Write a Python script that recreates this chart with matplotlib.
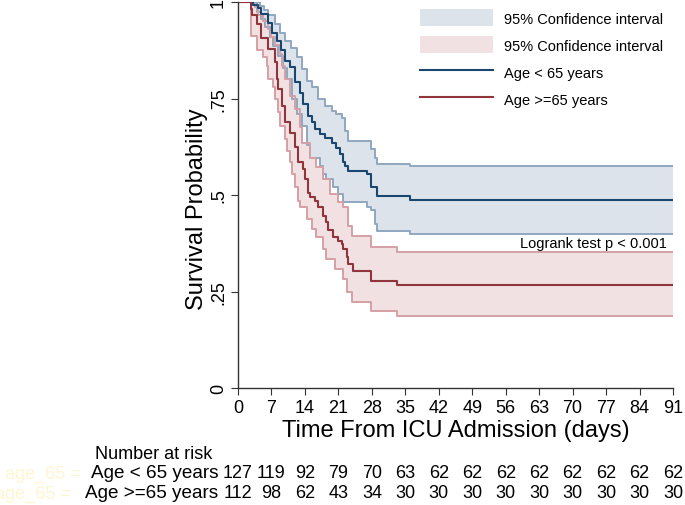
import numpy as np
import matplotlib.pyplot as plt
from matplotlib.patches import Patch
from matplotlib.lines import Line2D
import matplotlib.transforms as mtransforms

plt.rcParams['font.family'] = ['Liberation Sans', 'DejaVu Sans']

# Kaplan-Meier estimates (time of step, value after step)
young_t = [3.2, 4.2, 4.9, 6.3, 7.2, 8.1, 9.0, 9.8, 10.9, 11.9, 13.0, 13.6, 14.7, 15.4,
           16.1, 17.1, 18.2, 19.6, 20.6, 21.3, 22.0, 22.4, 23.0, 26.9, 27.9, 29.0, 35.9]
young_s = [0.993, 0.985, 0.97, 0.945, 0.92, 0.90, 0.875, 0.848, 0.832, 0.792, 0.765, 0.735,
           0.705, 0.69, 0.67, 0.658, 0.648, 0.636, 0.622, 0.605, 0.585, 0.576, 0.563, 0.555,
           0.52, 0.498, 0.488]
young_up_t = [4.6, 5.5, 6.3, 7.7, 8.8, 9.8, 11.0, 12.3, 13.3, 14.4, 15.4, 16.8, 18.2, 19.6,
              20.6, 21.7, 22.4, 23.0, 27.9, 28.6, 29.0, 35.9]
young_up_s = [0.99, 0.98, 0.966, 0.943, 0.92, 0.90, 0.88, 0.857, 0.826, 0.796, 0.779, 0.749,
              0.731, 0.718, 0.71, 0.70, 0.667, 0.641, 0.62, 0.595, 0.58, 0.574]
young_lo_t = [3.9, 4.9, 5.6, 6.7, 7.4, 8.4, 9.5, 10.2, 11.2, 12.3, 13.3, 14.4, 15.0, 17.1,
              17.8, 18.5, 19.9, 21.0, 22.0, 26.9, 27.9, 28.6, 29.0, 35.9]
young_lo_s = [0.975, 0.955, 0.935, 0.91, 0.885, 0.86, 0.83, 0.80, 0.75, 0.71, 0.68, 0.63,
              0.595, 0.576, 0.554, 0.541, 0.52, 0.503, 0.481, 0.468, 0.46, 0.425, 0.407, 0.399]

old_t = [2.7, 3.0, 3.9, 4.9, 6.3, 7.7, 8.1, 8.4, 9.1, 9.8, 10.9, 11.9, 12.6, 13.6, 14.0,
         14.7, 15.0, 16.1, 16.8, 17.8, 18.5, 18.9, 19.9, 21.0, 21.7, 22.0, 22.7, 23.0, 24.0,
         27.9, 33.2]
old_s = [0.982, 0.966, 0.943, 0.908, 0.878, 0.844, 0.80, 0.775, 0.731, 0.688, 0.66, 0.625,
         0.585, 0.567, 0.541, 0.505, 0.494, 0.485, 0.468, 0.445, 0.429, 0.41, 0.39, 0.382,
         0.373, 0.36, 0.34, 0.32, 0.304, 0.278, 0.267]
old_up_t = [2.7, 3.6, 4.2, 5.3, 6.3, 7.0, 7.7, 8.8, 9.1, 9.8, 10.9, 11.9, 13.0, 13.3, 15.0,
            16.4, 17.8, 19.2, 21.0, 22.0, 23.0, 23.8, 27.9, 33.2]
old_up_s = [0.995, 0.987, 0.966, 0.95, 0.93, 0.91, 0.888, 0.865, 0.835, 0.80, 0.757, 0.723,
            0.675, 0.636, 0.597, 0.572, 0.541, 0.503, 0.481, 0.468, 0.42, 0.395, 0.364, 0.353]
old_lo_t = [2.7, 3.9, 5.3, 6.0, 6.3, 7.4, 7.7, 8.4, 8.8, 9.8, 10.2, 10.9, 11.3, 11.9, 12.5,
            13.0, 14.4, 15.4, 16.4, 17.8, 18.5, 20.3, 22.0, 22.7, 23.8, 27.9, 33.2]
old_lo_s = [0.913, 0.875, 0.857, 0.835, 0.80, 0.779, 0.749, 0.714, 0.68, 0.645, 0.615, 0.585,
            0.555, 0.52, 0.485, 0.47, 0.438, 0.412, 0.39, 0.36, 0.334, 0.308, 0.282, 0.248,
            0.222, 0.20, 0.187]

t_end = 91
x_ticks = list(range(0, 92, 7))
risk_young = [127, 119, 92, 79, 70, 63, 62, 62, 62, 62, 62, 62, 62, 62]
risk_old = [112, 98, 62, 43, 34, 30, 30, 30, 30, 30, 30, 30, 30, 30]

blue = '#1a476f'
red = '#90353b'
blue_ci = '#8fa7c0'
red_ci = '#d59fa5'
blue_fill = '#dde3ea'
red_fill = '#f1e1e3'


def km_xy(t, s):
    x = np.concatenate([[0], t, [t_end]])
    y = np.concatenate([[1.0], s, [s[-1]]])
    return x, y


def on_grid(grid, t, s):
    x, y = km_xy(t, s)
    idx = np.searchsorted(x, grid, side='right') - 1
    return y[idx]


fig = plt.figure(figsize=(6.85, 5.06), dpi=100)
ax = fig.add_axes([238 / 685, 1 - 389 / 506, (673 - 238) / 685, 386 / 506])

for (ut, us, lt, ls, fc, lc) in [(young_up_t, young_up_s, young_lo_t, young_lo_s, blue_fill, blue_ci),
                                 (old_up_t, old_up_s, old_lo_t, old_lo_s, red_fill, red_ci)]:
    grid = np.unique(np.concatenate([[0, t_end], ut, lt]))
    ax.fill_between(grid, on_grid(grid, lt, ls), on_grid(grid, ut, us),
                    step='post', color=fc, lw=0)
    for tt, ss in [(ut, us), (lt, ls)]:
        x, y = km_xy(tt, ss)
        ax.step(x, y, where='post', color=lc, lw=1.4)

x, y = km_xy(young_t, young_s)
ax.step(x, y, where='post', color=blue, lw=1.5)
x, y = km_xy(old_t, old_s)
ax.step(x, y, where='post', color=red, lw=1.5)

ax.set_xlim(0, t_end)
ax.set_ylim(0, 1)
ax.spines['top'].set_visible(False)
ax.spines['right'].set_visible(False)
for sp in ['left', 'bottom']:
    ax.spines[sp].set_color('#333333')
    ax.spines[sp].set_linewidth(1.0)
ax.set_xticks(x_ticks)
ax.set_yticks([0, 0.25, 0.5, 0.75, 1])
ax.set_yticklabels(['0', '.25', '.5', '.75', '1'], rotation=90, va='center')
ax.tick_params(axis='both', labelsize=13, length=5, color='#333333', pad=3)
ax.set_xlabel('Time From ICU Admission (days)', fontsize=17, labelpad=2)
ax.set_ylabel('Survival Probability', fontsize=17)
ax.yaxis.set_label_coords(-0.068, 0.465)

ax.text(89.8, 0.376, 'Logrank test p < 0.001', ha='right', va='center', fontsize=10.5)

handles = [Patch(facecolor=blue_fill, edgecolor='none'),
           Patch(facecolor=red_fill, edgecolor='none'),
           Line2D([], [], color=blue, lw=1.5),
           Line2D([], [], color=red, lw=1.5)]
labels = ['95% Confidence interval', '95% Confidence interval', 'Age < 65 years', 'Age >=65 years']
ax.legend(handles, labels, loc='upper right', bbox_to_anchor=(0.993, 1.0), frameon=False,
          fontsize=10.5, handlelength=5.0, handleheight=1.4, labelspacing=0.7,
          handletextpad=0.7, borderaxespad=0.1)

# number at risk table
trans = mtransforms.blended_transform_factory(ax.transData, fig.transFigure)
row_y = [1 - 474 / 506, 1 - 494 / 506]
fig.text(95 / 685, 1 - 455 / 506, 'Number at risk', fontsize=13, va='center')
for yy, lab, vals in [(row_y[0], 'Age < 65 years', risk_young), (row_y[1], 'Age >=65 years', risk_old)]:
    fig.text(218 / 685, yy, lab, fontsize=13.6, va='center', ha='right')
    for xt, v in zip(x_ticks, vals):
        ax.text(xt, yy, str(v), transform=trans, fontsize=13, va='center', ha='center', clip_on=False)
fig.text(5 / 685, row_y[0], 'age_65 =', fontsize=13, va='center', color='#fff6d0')
fig.text(-5 / 685, row_y[1], 'age_65 =', fontsize=13, va='center', color='#fff6d0')

fig.savefig('out.png', dpi=100)
